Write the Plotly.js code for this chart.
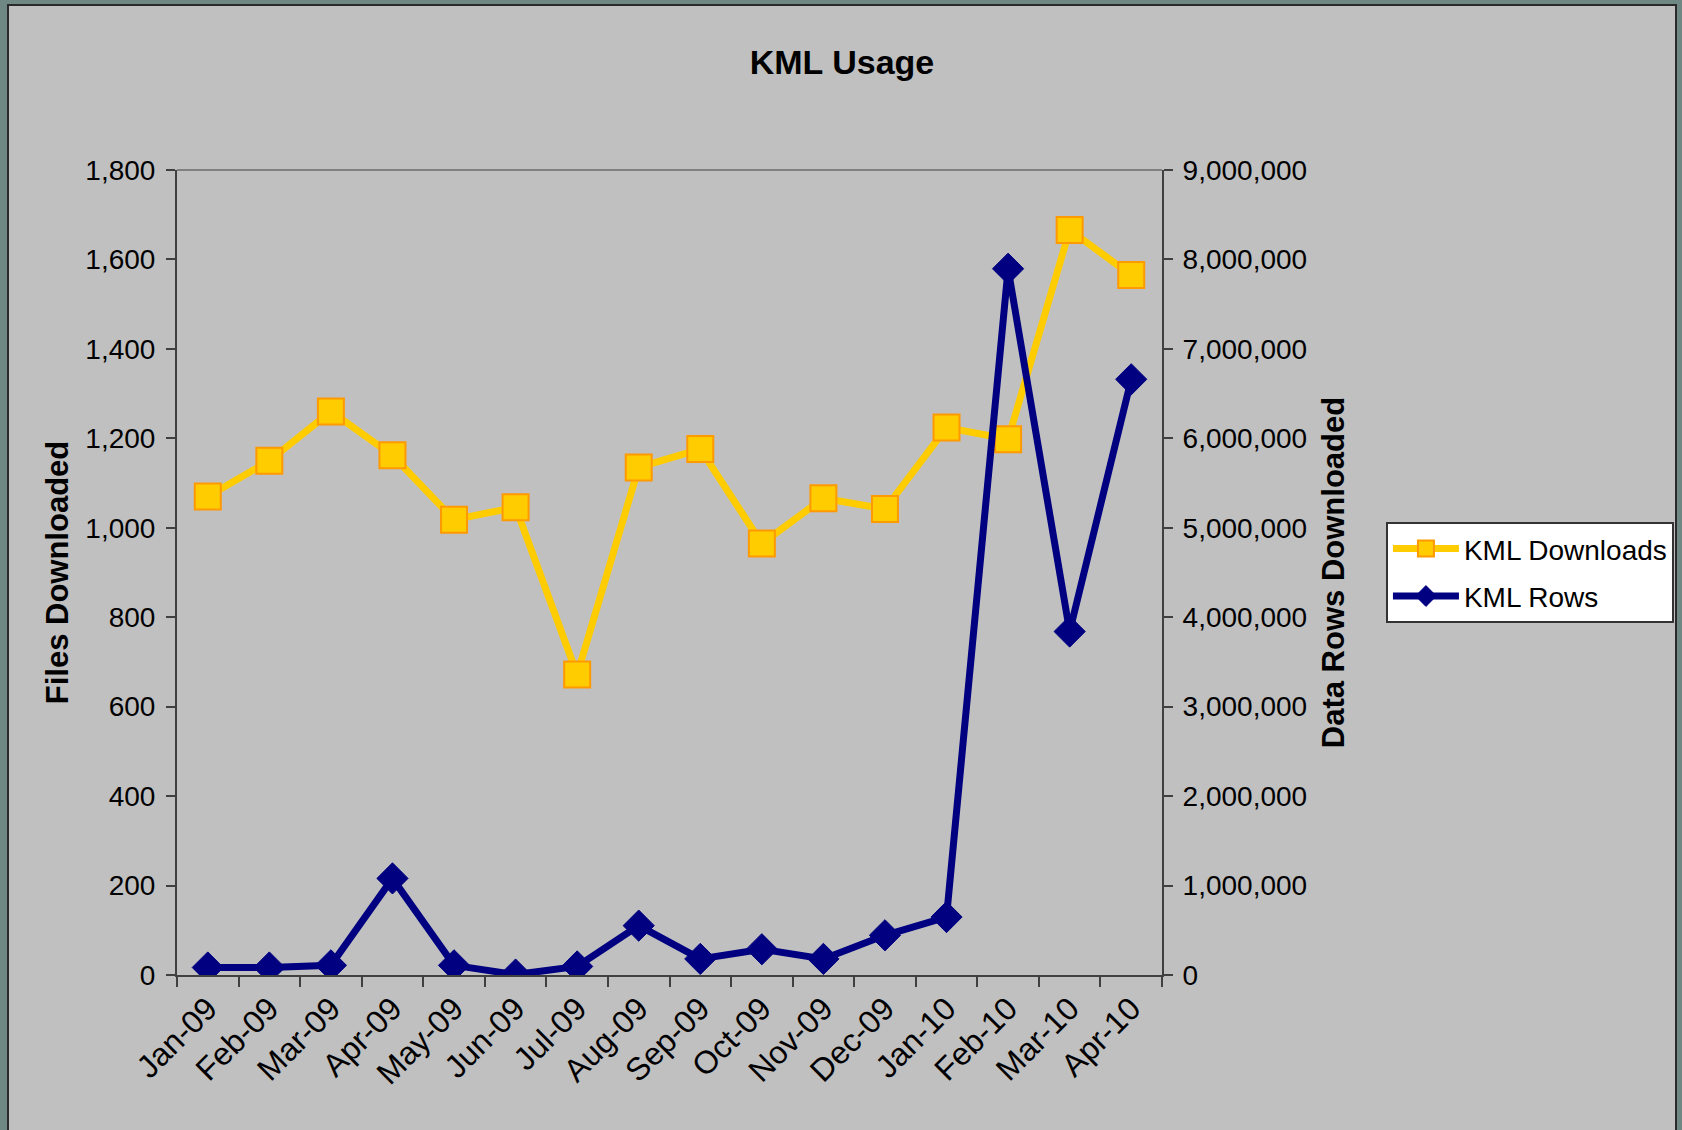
<!DOCTYPE html>
<html>
<head>
<meta charset="utf-8">
<script src="https://cdn.plot.ly/plotly-3.0.1.min.js"></script>
<style>
  html, body { margin: 0; padding: 0; width: 1682px; height: 1130px; overflow: hidden; background: #6f8884; }
  #frame { position: absolute; left: 7px; top: 4px; width: 1666px; height: 1130px; border: 2px solid #2a2a2a; background: #c0c0c0; }
  #chart { width: 1666px; height: 1124px; }
</style>
</head>
<body>
<div id="frame"><div id="chart"></div></div>
<script>
const months = ["Jan-09","Feb-09","Mar-09","Apr-09","May-09","Jun-09","Jul-09","Aug-09","Sep-09","Oct-09","Nov-09","Dec-09","Jan-10","Feb-10","Mar-10","Apr-10"];
const kmlDownloads = [1070, 1150, 1260, 1162, 1018, 1046, 672, 1135, 1176, 965, 1066, 1042, 1224, 1198, 1666, 1565];
const kmlRows = [84000, 84000, 108000, 1080000, 108000, 5000, 96000, 552000, 180000, 288000, 180000, 444000, 648000, 7896000, 3840000, 6660000];
const leftTicks = [0, 200, 400, 600, 800, 1000, 1200, 1400, 1600, 1800];
const rightTicks = [0, 1000000, 2000000, 3000000, 4000000, 5000000, 6000000, 7000000, 8000000, 9000000];

const FONT = "Liberation Sans, Arial, sans-serif";

const traces = [
  {
    x: months, y: kmlDownloads, name: "KML Downloads", type: "scatter", mode: "lines+markers",
    yaxis: "y", legendgroup: "a",
    line: { color: "#FFCC00", width: 7 },
    marker: { symbol: "square", size: 26, color: "#FFCC00", line: { color: "#FF9900", width: 2 } }
  },
  {
    x: months, y: kmlRows, name: "KML Rows", type: "scatter", mode: "lines+markers",
    yaxis: "y2", legendgroup: "b",
    line: { color: "#000080", width: 7 },
    marker: { symbol: "diamond", size: 24, color: "#000080", line: { color: "#000080", width: 1 } }
  }
];

const layout = {
  width: 1666, height: 1124,
  paper_bgcolor: "#c0c0c0", plot_bgcolor: "#c0c0c0",
  font: { family: FONT, size: 28, color: "#000" },
  margin: { l: 168, r: 513, t: 164, b: 155 },
  title: { text: "<b>KML Usage</b>", font: { family: FONT, size: 34, color: "#000" },
           x: 0.5, xref: "container", xanchor: "center", y: 0.95, yref: "container", yanchor: "middle" },
  xaxis: {
    type: "category", range: [-0.5, 15.5], tickangle: -45, tickson: "boundaries",
    ticks: "outside", ticklen: 10, tickwidth: 2, tickcolor: "#404040",
    showline: true, linecolor: "#404040", linewidth: 2, showgrid: false, zeroline: false,
    tickfont: { family: FONT, size: 32, color: "#000" }, automargin: false
  },
  yaxis: {
    range: [0, 1800], tickvals: leftTicks, tickformat: ",d",
    ticks: "outside", ticklen: 9, tickwidth: 2, tickcolor: "#404040", ticklabelstandoff: 5,
    showline: true, linecolor: "#404040", linewidth: 2, showgrid: false, zeroline: false,
    title: { text: "<b>Files Downloaded</b>", font: { family: FONT, size: 31, color: "#000" }, standoff: 7 },
    automargin: false
  },
  yaxis2: {
    range: [0, 9000000], tickvals: rightTicks, tickformat: ",d",
    overlaying: "y", side: "right",
    ticks: "outside", ticklen: 9, tickwidth: 2, tickcolor: "#404040", ticklabelstandoff: 4,
    showline: true, linecolor: "#404040", linewidth: 2, showgrid: false, zeroline: false,
    title: { text: "<b>Data Rows Downloaded</b>", font: { family: FONT, size: 31, color: "#000" }, standoff: 16 },
    automargin: false
  },
  shapes: [
    { type: "line", xref: "paper", yref: "paper", x0: 0, x1: 1, y0: 1, y1: 1, line: { color: "#808080", width: 2 } }
  ],
  legend: {
    xref: "container", yref: "container",
    x: 0.8265, xanchor: "left", y: 0.541, yanchor: "top",
    bgcolor: "#ffffff", bordercolor: "#333333", borderwidth: 2,
    font: { family: FONT, size: 28, color: "#000" },
    traceorder: "grouped", tracegroupgap: 8, itemwidth: 66
  },
  showlegend: true
};

Plotly.newPlot("chart", traces, layout, { displayModeBar: false, staticPlot: true });
</script>
</body>
</html>
